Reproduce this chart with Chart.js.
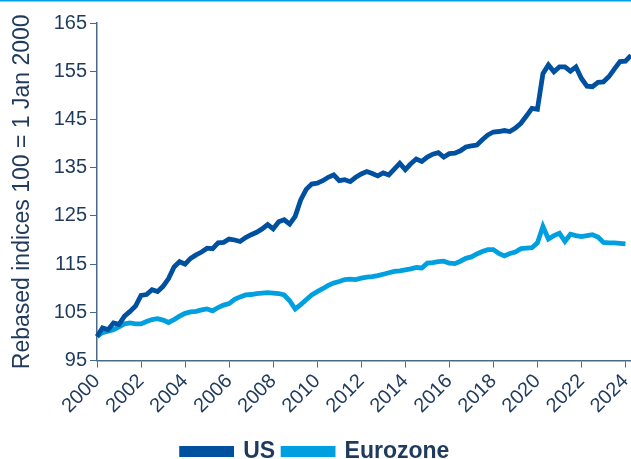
<!DOCTYPE html>
<html>
<head>
<meta charset="utf-8">
<script src="https://cdn.jsdelivr.net/npm/chart.js@4/dist/chart.umd.min.js"></script>
<style>
  html, body { margin: 0; padding: 0; background: #fff; }
  #wrap { width: 631px; height: 459px; position: relative; }
</style>
</head>
<body>
<div id="wrap"><canvas id="indexChart"></canvas></div>
<script>
// quarterly index values, 2000 Q1 = 100
const usValues = [
    100, 101.8, 101.4, 102.8, 102.5, 104.2, 105.2, 106.3,
    108.5, 108.7, 109.7, 109.3, 110.4, 112.0, 114.4, 115.5,
    115.0, 116.2, 116.9, 117.5, 118.3, 118.2, 119.4, 119.5,
    120.2, 120.0, 119.7, 120.5, 121.1, 121.6, 122.3, 123.2,
    122.3, 123.8, 124.2, 123.3, 124.9, 128.3, 130.5, 131.6,
    131.8, 132.3, 133.0, 133.5, 132.3, 132.5, 132.1, 133.0,
    133.7, 134.2, 133.8, 133.3, 133.9, 133.5, 134.7, 135.9,
    134.6, 135.8, 136.8, 136.3, 137.2, 137.8, 138.1, 137.2,
    137.9, 138.0, 138.5, 139.3, 139.5, 139.7, 140.8, 141.8,
    142.4, 142.5, 142.7, 142.5, 143.2, 144.2, 145.7, 147.3,
    147.1, 154.5, 156.3, 154.9, 155.9, 155.9, 155.0, 155.9,
    153.5, 151.9, 151.8, 152.7, 152.8, 153.9, 155.5, 157.0,
    157.1, 158.3
];
const euroValues = [
    100, 100.8, 101.1, 101.4, 102.0, 102.6, 102.8, 102.6,
    102.6, 103.1, 103.5, 103.7, 103.4, 102.9, 103.5, 104.2,
    104.8, 105.1, 105.2, 105.5, 105.7, 105.3, 106.0, 106.5,
    106.8, 107.7, 108.2, 108.6, 108.7, 108.9, 109.0, 109.1,
    109.0, 108.9, 108.6, 107.4, 105.7, 106.6, 107.6, 108.6,
    109.3, 109.9, 110.6, 111.1, 111.4, 111.8, 111.9, 111.8,
    112.1, 112.3, 112.4, 112.6, 112.9, 113.2, 113.5, 113.6,
    113.8, 114.0, 114.3, 114.2, 115.2, 115.3, 115.5, 115.6,
    115.2, 115.1, 115.6, 116.2, 116.5, 117.1, 117.6, 118.0,
    118.0, 117.2, 116.7, 117.2, 117.5, 118.2, 118.3, 118.4,
    119.4, 122.8, 120.2, 120.9, 121.4, 119.7, 121.2, 120.9,
    120.7, 120.9, 121.1, 120.6, 119.5, 119.4, 119.4, 119.3,
    119.2
];
const firstYear = 2000;
const lastYear = 2024;
const yTicks = [95, 105, 115, 125, 135, 145, 155, 165];

// quarter labels 2000 Q1 ... 2024 Q2
const quarters = [];
for (let y = firstYear; y <= lastYear; y++) {
    for (let q = 1; q <= 4; q++) {
        if (quarters.length < usValues.length) quarters.push(y + ' Q' + q);
    }
}

const navy = '#1f3a5c';
const axisColor = '#4a6888';
const usColor = '#0050a0';
const euroColor = '#00a0e0';
const fontFamily = 'Liberation Sans, Arial, sans-serif';

const topRule = {
    id: 'topRule',
    afterDraw(chart) {
        const ctx = chart.ctx;
        ctx.save();
        ctx.fillStyle = '#00a0e0';
        ctx.fillRect(0, 0, chart.width, 1.5);
        ctx.restore();
    }
};

new Chart(document.getElementById('indexChart'), {
    type: 'line',
    data: {
        labels: quarters,
        datasets: [{
            label: 'US',
            data: usValues,
            borderColor: usColor,
            backgroundColor: usColor,
            borderWidth: 4.8,
            pointRadius: 0,
            tension: 0
        }, {
            label: 'Eurozone',
            data: euroValues,
            borderColor: euroColor,
            backgroundColor: euroColor,
            borderWidth: 4.8,
            pointRadius: 0,
            tension: 0
        }]
    },
    options: {
        responsive: true,
        maintainAspectRatio: false,
        animation: false,
        layout: { padding: { top: 23, right: 0, left: 0, bottom: -14 } },
        plugins: {
            legend: {
                position: 'bottom',
                labels: {
                    color: navy,
                    boxWidth: 50,
                    boxHeight: 6,
                    padding: 8,
                    font: { family: fontFamily, size: 23, weight: 'bold' }
                }
            },
            tooltip: { enabled: false }
        },
        scales: {
            x: {
                type: 'category',
                offset: false,
                afterFit: function(scale) {
                    scale.paddingRight = 0;
                    scale.height = scale.height + 12;
                },
                grid: { display: true, drawOnChartArea: false, drawTicks: true, tickLength: 7, color: axisColor },
                border: { color: axisColor, width: 1.5 },
                ticks: {
                    autoSkip: false,
                    maxRotation: 45,
                    minRotation: 45,
                    padding: 2,
                    color: navy,
                    font: { family: fontFamily, size: 20 },
                    callback: function(val, idx) {
                        const lab = this.getLabelForValue(val);
                        return idx % 8 === 0 ? lab.slice(0, 4) : null;
                    }
                }
            },
            y: {
                min: 95,
                max: 165,
                afterBuildTicks: function(scale) {
                    scale.ticks = yTicks.map(v => ({ value: v }));
                },
                afterFit: function(scale) { scale.width = 97; },
                grid: { display: true, drawOnChartArea: false, drawTicks: true, tickLength: 7, color: axisColor },
                border: { color: axisColor, width: 1.5 },
                ticks: {
                    padding: 3,
                    color: navy,
                    font: { family: fontFamily, size: 20 }
                },
                title: {
                    display: true,
                    text: 'Rebased indices 100 = 1 Jan 2000',
                    color: navy,
                    padding: { top: 9, bottom: 0 },
                    font: { family: fontFamily, size: 23 }
                }
            }
        }
    },
    plugins: [topRule]
});
</script>
</body>
</html>
